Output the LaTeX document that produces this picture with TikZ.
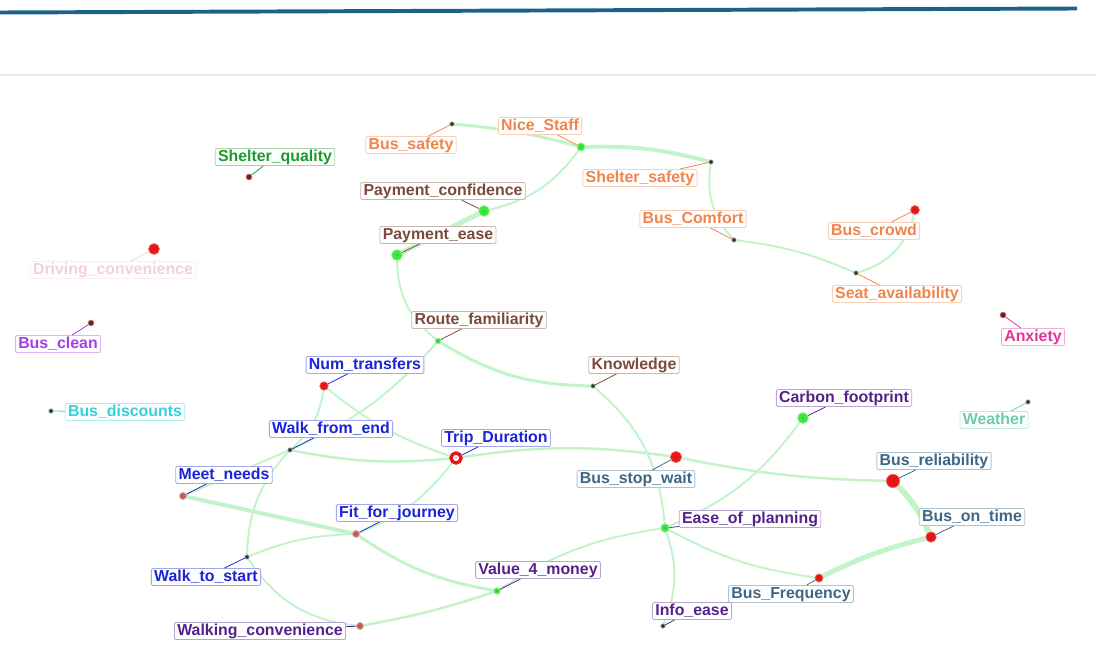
\documentclass[tikz,border=0pt]{standalone}
\usepackage{fontspec}
\setmainfont{Liberation Sans}
\usepackage{xcolor}
\usepackage{tikz}
\usetikzlibrary{backgrounds}
\definecolor{TopBlue}{HTML}{1B6286}
\definecolor{RuleGrey}{HTML}{E8E8E8}
\definecolor{EdgeGreen}{HTML}{C3F4C9}
\definecolor{LabOrange}{HTML}{F2844A}
\definecolor{LabBrown}{HTML}{7B4A3B}
\definecolor{LabGreen}{HTML}{1E9A2C}
\definecolor{LabRose}{HTML}{EFD3D6}
\definecolor{LabViolet}{HTML}{A43FE6}
\definecolor{LabCyan}{HTML}{34D2DC}
\definecolor{LabBlue}{HTML}{1B24D6}
\definecolor{LabSteel}{HTML}{3C6787}
\definecolor{LabPlum}{HTML}{54218C}
\definecolor{LabPink}{HTML}{E0349A}
\definecolor{LabTeal}{HTML}{6ACDA6}
\definecolor{DotRed}{HTML}{E81616}
\definecolor{DotGreen}{HTML}{3DE83D}
\definecolor{DotDark}{HTML}{253525}
\definecolor{DotMaroon}{HTML}{7A1A1A}
\definecolor{DotRust}{HTML}{C46262}

\begin{document}
\begin{tikzpicture}[x=0.25mm,y=-0.25mm,
  lbl/.style={draw=#1!40,text=#1,fill=white,rounded corners=1pt,line width=0.6pt,
    inner xsep=2pt,inner ysep=0.6pt,text height=8.6pt,text depth=2.4pt,
    font=\fontsize{11.3}{13}\selectfont\bfseries},
  tie/.style={line width=0.55pt},
  link/.style={draw=EdgeGreen,line width=#1},
  link/.default=1.4pt,
  blob/.style={circle,inner sep=0pt,minimum size=#1},
  core/.style={path picture={\fill[black!75] (path picture bounding box.center) circle (0.45pt);}},
  blobK/.style={blob=1.1mm,fill=DotDark,draw=black!35,line width=0.5pt},
  blobM/.style={blob=1.5mm,fill=DotMaroon,draw=DotMaroon!50,line width=0.5pt},
  blobU/.style={blob=1.8mm,fill=DotRust,draw=DotRust!50,line width=0.5pt,core},
  blobR/.style={blob=#1,fill=DotRed,draw=DotRed!70,line width=0.5pt,core},
  blobR/.default=2.5mm,
  blobG/.style={blob=#1,fill=DotGreen,draw=DotGreen!60,line width=0.5pt,core},
  blobG/.default=2.5mm,
  blobRing/.style={blob=2.5mm,draw=DotRed,line width=0.85mm,fill=white,core}]
\path[use as bounding box] (0,0) rectangle (1096,671);
\draw[TopBlue,line width=2.8pt] (0,12.5) -- (1077,8.5);
\draw[RuleGrey,line width=1.2pt] (0,75) -- (1096,75);

% concept points
\node[blobK] (bsafety) at (452,124) {};
\node[blobG=2mm] (nicestaff) at (581,147) {};
\node[blobK] (sheltsafe) at (711,162) {};
\node[blobG=2.7mm] (payconf) at (484,211) {};
\node[blobG=2.7mm] (payease) at (397,255) {};
\node[blobK] (comfort) at (734,240) {};
\node[blobR=2.2mm] (crowd) at (915,210) {};
\node[blobK] (seat) at (856,273) {};
\node[blobM] (sheltqual) at (249,177) {};
\node[blobR=2.7mm] (driving) at (154,249) {};
\node[blobM] (clean) at (91,323) {};
\node[blobK] (discounts) at (51,411) {};
\node[blobG=1.4mm] (routefam) at (438,341) {};
\node[blobR=2.1mm] (numtrans) at (324,386) {};
\node[blobK] (knowledge) at (593,386) {};
\node[blobK] (walkend) at (290,450) {};
\node[blobRing] (trip) at (456,458) {};
\node[blobR=2.8mm] (stopwait) at (676,457) {};
\node[blobG=2.7mm] (carbon) at (803,418) {};
\node[blobK] (weather) at (1028,402) {};
\node[blobM] (anxiety) at (1003,315) {};
\node[blobR=3.3mm] (reliab) at (893,481) {};
\node[blobU] (meet) at (183,496) {};
\node[blobU] (fit) at (356,534) {};
\node[blobG=2.1mm] (ease) at (665,528) {};
\node[blobR=2.6mm] (ontime) at (931,537) {};
\node[blobK] (walkstart) at (247,557) {};
\node[blobG=1.6mm] (value) at (497,591) {};
\node[blobR=2mm] (freq) at (819,578) {};
\node[blobK] (info) at (663,626) {};
\node[blobU] (walkconv) at (360,626) {};

% labels
\node[lbl=LabOrange] (bsafetyL) at (411,145) {Bus\_safety};
\node[lbl=LabOrange] (nicestaffL) at (540,126) {Nice\_Staff};
\node[lbl=LabOrange] (sheltsafeL) at (640,178) {Shelter\_safety};
\node[lbl=LabBrown] (payconfL) at (443,191) {Payment\_confidence};
\node[lbl=LabBrown] (payeaseL) at (438,235) {Payment\_ease};
\node[lbl=LabOrange] (comfortL) at (693,219) {Bus\_Comfort};
\node[lbl=LabOrange] (crowdL) at (874,231) {Bus\_crowd};
\node[lbl=LabOrange] (seatL) at (897,294) {Seat\_availability};
\node[lbl=LabGreen] (sheltqualL) at (275,157) {Shelter\_quality};
\node[lbl=LabRose] (drivingL) at (113,270) {Driving\_convenience};
\node[lbl=LabViolet] (cleanL) at (58,344) {Bus\_clean};
\node[lbl=LabCyan] (discountsL) at (125,412) {Bus\_discounts};
\node[lbl=LabBrown] (routefamL) at (479,320) {Route\_familiarity};
\node[lbl=LabBlue] (numtransL) at (365,365) {Num\_transfers};
\node[lbl=LabBrown] (knowledgeL) at (634,365) {Knowledge};
\node[lbl=LabBlue] (walkendL) at (331,429) {Walk\_from\_end};
\node[lbl=LabBlue] (tripL) at (496,438) {Trip\_Duration};
\node[lbl=LabSteel] (stopwaitL) at (636,479) {Bus\_stop\_wait};
\node[lbl=LabPlum] (carbonL) at (844,398) {Carbon\_footprint};
\node[lbl=LabTeal] (weatherL) at (994,420) {Weather};
\node[lbl=LabPink] (anxietyL) at (1033,337) {Anxiety};
\node[lbl=LabSteel] (reliabL) at (934,461) {Bus\_reliability};
\node[lbl=LabBlue] (meetL) at (224,475) {Meet\_needs};
\node[lbl=LabBlue] (fitL) at (397,513) {Fit\_for\_journey};
\node[lbl=LabPlum] (easeL) at (750,519) {Ease\_of\_planning};
\node[lbl=LabSteel] (ontimeL) at (972,517) {Bus\_on\_time};
\node[lbl=LabBlue] (walkstartL) at (206,577) {Walk\_to\_start};
\node[lbl=LabPlum] (valueL) at (538,570) {Value\_4\_money};
\node[lbl=LabSteel] (freqL) at (791,594) {Bus\_Frequency};
\node[lbl=LabPlum] (infoL) at (692,611) {Info\_ease};
\node[lbl=LabPlum] (walkconvL) at (260,631) {Walking\_convenience};

% label ties
\draw[tie,LabOrange] (bsafety) -- (bsafetyL);
\draw[tie,LabOrange] (nicestaff) -- (nicestaffL);
\draw[tie,LabOrange] (sheltsafe) -- (sheltsafeL);
\draw[tie,LabBrown] (payconf) -- (payconfL);
\draw[tie,LabBrown] (payease) -- (payeaseL);
\draw[tie,LabOrange] (comfort) -- (comfortL);
\draw[tie,LabOrange] (crowd) -- (crowdL);
\draw[tie,LabOrange] (seat) -- (seatL);
\draw[tie,LabGreen] (sheltqual) -- (sheltqualL);
\draw[tie,LabRose] (driving) -- (drivingL);
\draw[tie,LabViolet] (clean) -- (cleanL);
\draw[tie,LabCyan] (discounts) -- (discountsL);
\draw[tie,LabBrown] (routefam) -- (routefamL);
\draw[tie,LabBlue] (numtrans) -- (numtransL);
\draw[tie,LabBrown] (knowledge) -- (knowledgeL);
\draw[tie,LabBlue] (walkend) -- (walkendL);
\draw[tie,LabBlue] (trip) -- (tripL);
\draw[tie,LabSteel] (stopwait) -- (stopwaitL);
\draw[tie,LabPlum] (carbon) -- (carbonL);
\draw[tie,LabTeal] (weather) -- (weatherL);
\draw[tie,LabPink] (anxiety) -- (anxietyL);
\draw[tie,LabSteel] (reliab) -- (reliabL);
\draw[tie,LabBlue] (meet) -- (meetL);
\draw[tie,LabBlue] (fit) -- (fitL);
\draw[tie,LabPlum] (ease) -- (easeL);
\draw[tie,LabSteel] (ontime) -- (ontimeL);
\draw[tie,LabBlue] (walkstart) -- (walkstartL);
\draw[tie,LabPlum] (value) -- (valueL);
\draw[tie,LabSteel] (freq) -- (freqL);
\draw[tie,LabPlum] (info) -- (infoL);
\draw[tie,LabPlum] (walkconv) -- (walkconvL);

% links
\begin{scope}[on background layer]
\draw[link=2.1pt] (bsafety) to[bend left=5] (nicestaff);
\draw[link=2.8pt] (nicestaff) to[bend left=8] (sheltsafe);
\draw[link] (nicestaff) to[bend left=20] (payconf);
\draw[link=3.5pt] (payconf) -- (payease);
\draw[link] (payease) to[bend right=25] (routefam);
\draw[link] (sheltsafe) to[bend right=25] (comfort);
\draw[link] (comfort) to[bend left=8] (seat);
\draw[link] (seat) to[bend right=30] (crowd);
\draw[link=2.1pt] (routefam) to[bend right=15] (knowledge);
\draw[link] (routefam) to[bend left=12] (walkend);
\draw[link] (numtrans) to[bend left=20] (walkend);
\draw[link] (numtrans) to[bend right=10] (trip);
\draw[link=1.8pt] (walkend) to[bend right=8] (trip);
\draw[link] (walkend) -- (meet);
\draw[link] (walkend) to[bend right=20] (walkstart);
\draw[link=2.8pt] (meet) -- (fit);
\draw[link=2.1pt] (fit) to[bend right=12] (value);
\draw[link] (fit) to[bend right=15] (trip);
\draw[link] (fit) to[bend right=10] (walkstart);
\draw[link] (walkstart) to[bend right=25] (walkconv);
\draw[link=1.8pt] (walkconv) to[bend right=4] (value);
\draw[link] (value) to[bend left=12] (ease);
\draw[link] (ease) to[bend right=15] (carbon);
\draw[link] (ease) to[bend left=20] (info);
\draw[link] (ease) to[bend right=10] (freq);
\draw[link] (knowledge) to[bend left=22] (ease);
\draw[link=1.8pt] (trip) to[bend left=8] (stopwait);
\draw[link=1.8pt] (stopwait) to[bend right=5] (reliab);
\draw[link=4.2pt] (reliab) to[bend left=10] (ontime);
\draw[link=3.5pt] (ontime) to[bend right=6] (freq);
\end{scope}
\end{tikzpicture}
\end{document}
